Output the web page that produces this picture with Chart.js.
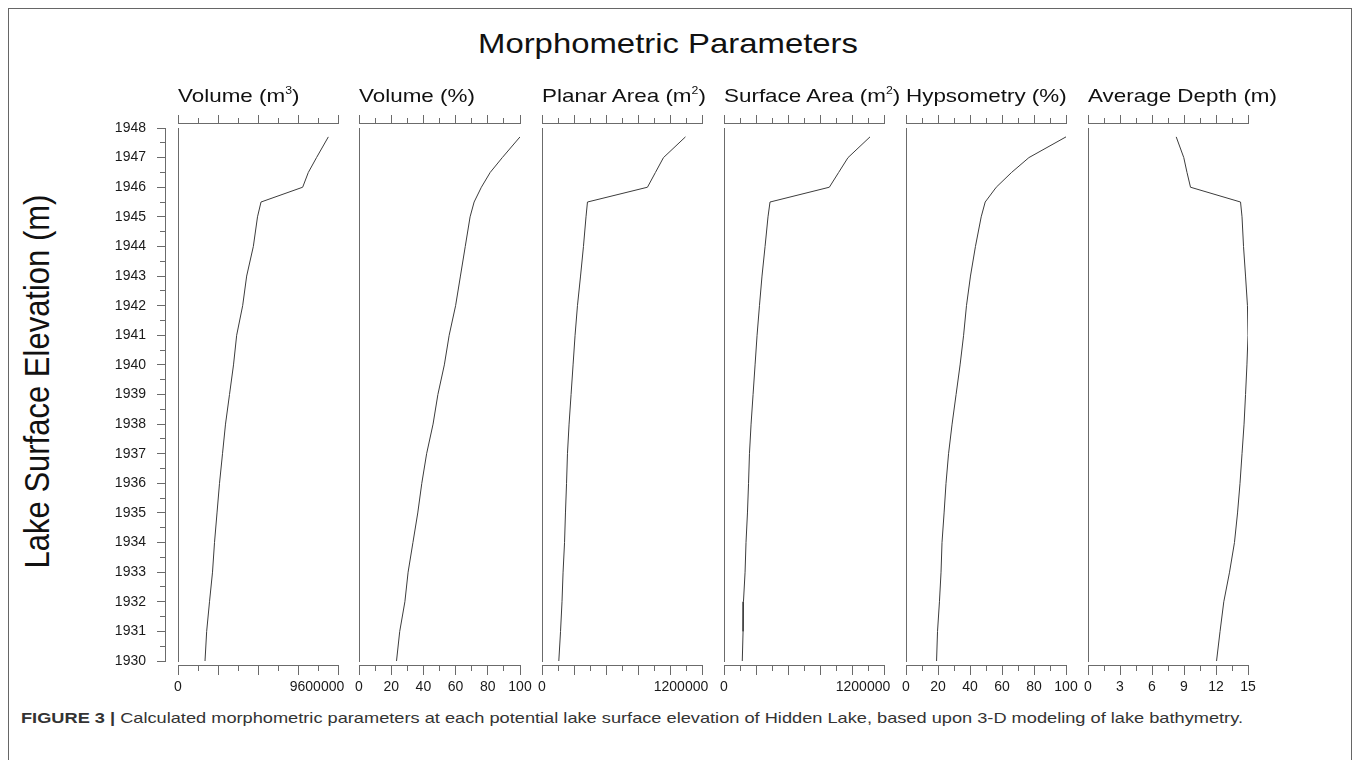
<!DOCTYPE html>
<html><head><meta charset="utf-8">
<script src="https://cdn.jsdelivr.net/npm/chart.js@4.4.0/dist/chart.umd.min.js"></script>
<style>
html,body{margin:0;padding:0;background:#fff;width:1358px;height:760px;overflow:hidden;font-family:"Liberation Sans",Arial,Helvetica,sans-serif;}
#frame{position:absolute;left:8px;top:8px;width:1344px;height:800px;border:1.5px solid #666;box-sizing:border-box}
.cv{position:absolute}
.t{position:absolute;white-space:nowrap;transform-origin:0 0;color:#111;line-height:1}
.t sup{font-size:55%;vertical-align:0.75em;line-height:0}
</style></head><body>
<div id="frame"></div>
<div id="title" class="t" style="font-size:28px">Morphometric Parameters</div>
<div id="ytitle" class="t" style="font-size:31px">Lake Surface Elevation (m)</div>
<div id="cap" class="t" style="font-size:15px;color:#333"><b>FIGURE 3 |</b> Calculated morphometric parameters at each potential lake surface elevation of Hidden Lake, based upon 3-D modeling of lake bathymetry.</div>
<script>
// ---------------- DATA ----------------
const elevations = [1947.7,1947,1946.5,1946,1945.5,1945,1944,1943,1942,1941,1940,1939,1938,1937,1936,1935,1934,1933,1932,1931,1930];
const volumeM3 = [9020000,8310000,7820000,7480000,4980000,4770000,4520000,4120000,3880000,3520000,3330000,3090000,2850000,2670000,2490000,2340000,2190000,2070000,1890000,1720000,1620000];
const volumePct = [100,89,81.5,76,71.5,69,66,63,60,56,53,49,46,42,39,36.5,33.5,30.5,28.5,25.3,23.3];
const planarArea = [1076000,911000,851000,791000,341000,330000,311000,289000,266000,248000,233000,218000,203000,191000,184000,176000,169000,158000,150000,139000,126000];
const surfaceArea = [1095000,930000,860000,790000,345000,330000,308000,285000,266000,248000,233000,218000,203000,191000,184000,176000,165000,158000,146000,143000,137000];
const hypsometry = [100,76.8,66,56.4,49.5,47,43.4,40.3,37.8,36,33.8,31.3,28.8,26.6,25,23.8,22.5,21.9,20.9,19.7,19.1];
const avgDepth = [8.27,8.98,9.28,9.61,14.3,14.44,14.58,14.77,14.95,15.0,14.9,14.77,14.63,14.44,14.25,14.02,13.73,13.27,12.73,12.38,12.05];

const elevationTickLabels = [1930,1931,1932,1933,1934,1935,1936,1937,1938,1939,1940,1941,1942,1943,1944,1945,1946,1947,1948];
const panelTitles = ['Volume (m<sup>3</sup>)','Volume (%)','Planar Area (m<sup>2</sup>)','Surface Area (m<sup>2</sup>)','Hypsometry (%)','Average Depth (m)'];
const axisMax = [9600000,100,1200000,1200000,100,15];
const minorStep = [1200000,10,120000,120000,10,1.5];
const majorStep = [2400000,20,240000,240000,20,3];
const tickLabels = [[0,9600000],[0,20,40,60,80,100],[0,1200000],[0,1200000],[0,20,40,60,80,100],[0,3,6,9,12,15]];
const series = [volumeM3, volumePct, planarArea, surfaceArea, hypsometry, avgDepth];

// ---------------- LAYOUT / STYLE ----------------
const FONT = '"Liberation Sans", Arial, Helvetica, sans-serif';
const AX = '#6b6b6b', LINE = '#3c3c3c', TXT = '#1a1a1a';
const panelLeft = [178,359,542,724,906,1088];
const panelWidth = [160,161,160,160,160,160];
const endShift = [true,false,true,true,false,false];
const CTOP = 100, CH = 700;            // canvas top / height (page px)
const AREA_TOP = 128, AREA_BOTTOM = 661; // plot area
const TOP_AXIS_Y = 123, BOTTOM_AXIS_Y = 665, ELEV_AXIS_X = 165;

function gridOpt(len, color) {
  return {display:true, drawOnChartArea:false, drawTicks:true, tickLength:len, color:AX, tickColor: color || AX, lineWidth:1, tickWidth:1};
}
function near(a,b,m){ return Math.abs(a-b) < 1e-9*Math.max(1,Math.abs(m)); }

function buildPanel(i) {
  const L = panelLeft[i], W = panelWidth[i];
  const first = i === 0;
  const canvasLeft = first ? 0 : L - 20;
  const padL = first ? 0 : 20;
  const padR = 50;
  const cw = (L - canvasLeft) + W + padR;
  const c = document.createElement('canvas');
  c.width = cw; c.height = CH; c.className = 'cv';
  c.style.left = canvasLeft + 'px'; c.style.top = CTOP + 'px';
  c.style.width = cw + 'px'; c.style.height = CH + 'px';
  document.body.appendChild(c);

  const max = axisMax[i], labs = tickLabels[i], shift = endShift[i];
  const nb = shift ? 3 : 2;
  const bh = (CH - (AREA_BOTTOM - CTOP)) / nb;
  const th = (AREA_TOP - CTOP) / 2;
  const tickFont = {size:14, family:FONT};
  const noLabels = {display:false, autoSkip:false, maxTicksLimit:1000};

  const scales = {
    xTopMinor: {type:'linear', position:'top', min:0, max, afterFit:s=>{s.height=th;},
      grid:gridOpt(5), border:{display:false}, ticks:Object.assign({stepSize:minorStep[i]}, noLabels)},
    xTop: {type:'linear', position:'top', min:0, max, afterFit:s=>{s.height=th;},
      grid:gridOpt(8), border:{display:true,color:AX,width:1}, ticks:Object.assign({stepSize:majorStep[i]}, noLabels)},
    xMinor: {type:'linear', position:'bottom', min:0, max, afterFit:s=>{s.height=bh;},
      grid:gridOpt(6), border:{display:false}, ticks:Object.assign({stepSize:minorStep[i]}, noLabels)},
    x: {type:'linear', position:'bottom', min:0, max, afterFit:s=>{s.height=bh;},
      grid:gridOpt(10), border:{display:true,color:AX,width:1},
      ticks:{stepSize:majorStep[i], autoSkip:false, maxTicksLimit:1000, maxRotation:0, minRotation:0, padding:4, color:TXT, font:tickFont,
        callback:(v)=>{ const hit = labs.find(t=>near(t,v,max)); if (hit===undefined) return ''; if (shift && near(hit,max,max)) return ''; return String(hit); }}},
    y: {type:'linear', position:'left', min:1930, max:1948, afterFit:s=>{s.width = first ? 13 : 0;},
      grid:{display:false}, border:{display:true,color:AX,width:1}, ticks:{display:false}}
  };
  if (shift) {
    scales.xEnd = {type:'linear', position:'bottom', min:0, max, afterFit:s=>{s.height=bh;},
      afterBuildTicks:(s)=>{ s.ticks = [{value:max}]; },
      grid:gridOpt(10,'rgba(0,0,0,0)'), border:{display:false},
      ticks:{autoSkip:false, maxRotation:0, minRotation:0, padding:4, color:TXT, font:tickFont, labelOffset:-21,
        callback:(v)=>String(labs[labs.length-1])}};
  }
  const pins = {
    xTopMinor:{bottom:TOP_AXIS_Y-CTOP}, xTop:{bottom:TOP_AXIS_Y-CTOP},
    xMinor:{top:BOTTOM_AXIS_Y-CTOP}, x:{top:BOTTOM_AXIS_Y-CTOP}, xEnd:{top:BOTTOM_AXIS_Y-CTOP},
    y:{right:L-canvasLeft}
  };
  if (first) {
    scales.yElevMinor = {type:'linear', position:'left', min:1930, max:1948, afterFit:s=>{s.width=0;}, weight:5,
      grid:gridOpt(5), border:{display:false}, ticks:{display:false, stepSize:0.5, autoSkip:false, maxTicksLimit:1000}};
    scales.yElev = {type:'linear', position:'left', min:1930, max:1948, afterFit:s=>{s.width=ELEV_AXIS_X;}, weight:10,
      grid:gridOpt(8), border:{display:true,color:AX,width:1},
      ticks:{stepSize:1, autoSkip:false, maxTicksLimit:1000, padding:11, color:TXT, font:tickFont,
        callback:(v)=>{ const hit = elevationTickLabels.find(t=>near(t,v,1)); return hit===undefined ? '' : String(hit); }}};
    pins.yElev = {right:ELEV_AXIS_X};
    pins.yElevMinor = {right:ELEV_AXIS_X};
  }
  const pinPlugin = {
    id:'pin'+i,
    afterLayout(chart) {
      for (const [id,p] of Object.entries(pins)) {
        const s = chart.scales[id]; if (!s) continue;
        if (p.top !== undefined) { const h = s.bottom - s.top; s.top = p.top; s.bottom = p.top + h; }
        if (p.bottom !== undefined) { const h = s.bottom - s.top; s.bottom = p.bottom; s.top = p.bottom - h; }
        if (p.right !== undefined) { const w = s.right - s.left; s.right = p.right; s.left = p.right - w; }
      }
    }
  };
  new Chart(c.getContext('2d'), {
    type:'line',
    data:{datasets:[{
      data: series[i].map((v,k)=>({x:v, y:elevations[k]})),
      xAxisID:'x', yAxisID:'y', borderColor:LINE, borderWidth:1, pointRadius:0, fill:false, tension:0
    }]},
    options:{
      responsive:false, animation:false, devicePixelRatio:1, events:[],
      layout:{padding:{left:padL, right:padR, top:0, bottom:0}},
      plugins:{legend:{display:false}, tooltip:{enabled:false}, title:{display:false}},
      scales
    },
    plugins:[pinPlugin]
  });

  // panel title (HTML text)
  const t = document.createElement('div');
  t.className = 't';
  t.innerHTML = panelTitles[i];
  t.style.fontSize = '19px';
  t.style.left = L + 'px';
  t.style.top = '85.5px';
  t.style.transform = 'scaleX(1.18)';
  document.body.appendChild(t);
}

for (let i = 0; i < 6; i++) buildPanel(i);

// texts
function place(el, left, top, targetW) {
  el.style.left = left + 'px'; el.style.top = top + 'px';
  const w = el.getBoundingClientRect().width;
  el.style.transform = 'scaleX(' + (targetW / w) + ')';
}
place(document.getElementById('title'), 478, 30, 380);
place(document.getElementById('cap'), 21, 710, 1222);
const yt = document.getElementById('ytitle');
const r = yt.getBoundingClientRect();
const cx = 37, cy = 381;
yt.style.transformOrigin = '50% 50%';
yt.style.left = (cx - r.width/2) + 'px';
yt.style.top = (cy - r.height/2) + 'px';
yt.style.transform = 'rotate(-90deg) scaleY(1.15)';
</script>
</body></html>
